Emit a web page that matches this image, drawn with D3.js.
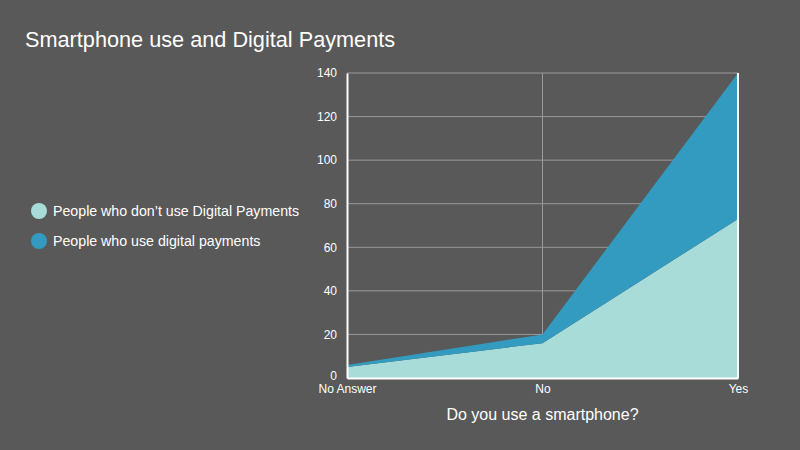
<!DOCTYPE html>
<html><head><meta charset="utf-8">
<script src="https://cdn.jsdelivr.net/npm/d3@7"></script>
<style>body{margin:0;background:#585958;}svg{display:block;font-family:"Liberation Sans",Arial,sans-serif;}</style>
</head><body>
<svg id="c" width="800" height="450"></svg>
<script>
const categories = ["No Answer", "No", "Yes"];
const seriesNames = ["People who don\u2019t use Digital Payments", "People who use digital payments"];
const noDigital = [5, 16, 73];
const digital = [1, 4, 67];
const yTicks = [0, 20, 40, 60, 80, 100, 120, 140];
const colors = ["#a8dcd9", "#339bbf"];

const svg = d3.select("#c");
svg.append("rect").attr("width",800).attr("height",450).attr("fill","#585958");
const L = 347, R = 738, T = 73, B = 378;
const x = d3.scalePoint().domain(categories).range([L, R]);
const y = d3.scaleLinear().domain([0, 140]).range([B, T]);

const rows = categories.map((c,i)=>({cat:c, a:noDigital[i], b:digital[i]}));
const stack = d3.stack().keys(["a","b"])(rows);

// grid
svg.append("g").selectAll("line").data(yTicks.filter(d=>d>0)).join("line")
  .attr("x1",L).attr("x2",R).attr("y1",d=>y(d)).attr("y2",d=>y(d))
  .attr("stroke","#9a9a9a").attr("stroke-width",1);
svg.append("g").selectAll("line").data(categories.slice(1,-1)).join("line")
  .attr("x1",d=>x(d)).attr("x2",d=>x(d)).attr("y1",T).attr("y2",B)
  .attr("stroke","#9a9a9a").attr("stroke-width",1);

const area = d3.area().x(d=>x(d.data.cat)).y0(d=>y(d[0])).y1(d=>y(d[1]));
svg.append("g").selectAll("path").data(stack).join("path")
  .attr("d",area).attr("fill",(d,i)=>colors[i]);

// axes
const yAxis = d3.axisLeft(y).tickValues(yTicks).tickSize(0).tickPadding(10);
const gy = svg.append("g").attr("transform",`translate(${L},0)`).call(yAxis);
gy.select(".domain").attr("stroke","#fff").attr("stroke-width",2);
gy.selectAll("text").attr("fill","#fff").attr("font-size",12).attr("font-family","Liberation Sans, Arial, sans-serif");
gy.selectAll(".tick").filter(d=>d===0).select("text").attr("dy","0.1em");

const xAxis = d3.axisBottom(x).tickSize(0).tickPadding(6);
const gx = svg.append("g").attr("transform",`translate(0,${B})`).call(xAxis);
gx.select(".domain").attr("stroke","#fff").attr("stroke-width",2);
gx.selectAll("text").attr("fill","#fff").attr("font-size",12).attr("font-family","Liberation Sans, Arial, sans-serif");

svg.append("line").attr("x1",R).attr("x2",R).attr("y1",T).attr("y2",B).attr("stroke","#fff").attr("stroke-width",2);

svg.append("text").attr("x",(L+R)/2).attr("y",420).attr("text-anchor","middle")
  .attr("fill","#fff").attr("font-size",16).text("Do you use a smartphone?");

svg.append("text").attr("x",25).attr("y",47).attr("fill","#fff").attr("font-size",21.7)
  .text("Smartphone use and Digital Payments");

const lg = svg.append("g");
seriesNames.forEach((n,i)=>{
  const cy = 211 + i*30;
  lg.append("circle").attr("cx",39).attr("cy",cy).attr("r",8).attr("fill",colors[i]);
  lg.append("text").attr("x",53).attr("y",cy+5).attr("fill","#fff").attr("font-size",14.2).text(n);
});
</script>
</body></html>
